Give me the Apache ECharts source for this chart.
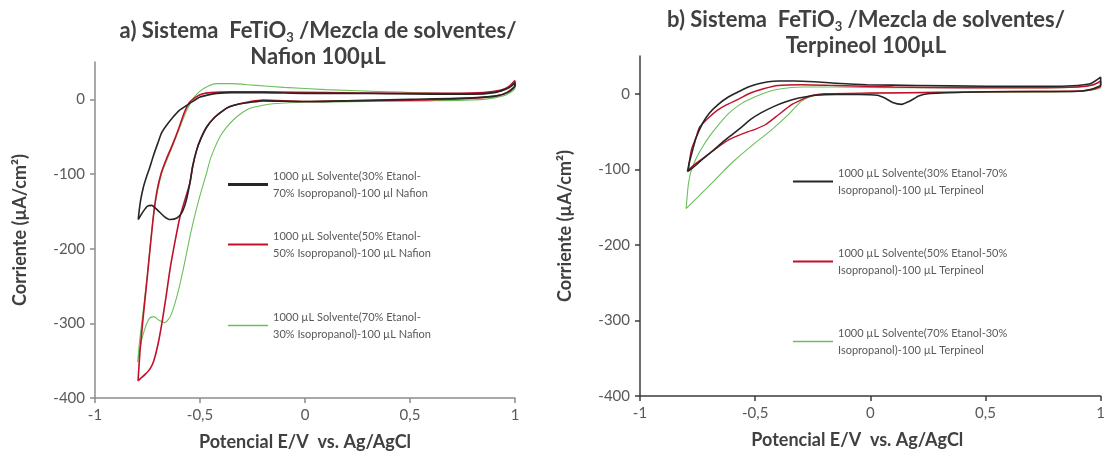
<!DOCTYPE html>
<html>
<head>
<meta charset="utf-8">
<script src="https://cdn.jsdelivr.net/npm/echarts@6/dist/echarts.min.js"></script>
<style>
  html, body { margin: 0; padding: 0; background: #ffffff; }
  #chart { width: 1108px; height: 461px; }
</style>
</head>
<body>
<div id="chart"></div>
<script>
// Cyclic voltammograms: [potential E/V vs Ag/AgCl, current µA/cm²]
// Each loop: forward (anodic) branch followed by the return branch.

// a) FeTiO3 / solvent mixture / Nafion 100 µL
const nafion30 = [
  [-0.794,-161],[-0.79,-150],[-0.782,-134],[-0.77,-118],[-0.755,-104],[-0.74,-92],[-0.72,-74],
  [-0.70,-58],[-0.683,-45],[-0.66,-35],[-0.629,-24],[-0.60,-15],[-0.563,-8],[-0.53,-2],[-0.50,3],
  [-0.46,6],[-0.42,8],[-0.35,9],[-0.2,9],[0,8],[0.3,8],[0.6,7],[0.8,7],[0.9,9],[0.95,13],[0.98,17],[1.0,22],
  [1.0,18],[0.97,10],[0.92,5],[0.8,2],[0.5,0],[0.2,-2],[0,-3],[-0.2,-2],[-0.26,-4],[-0.31,-6],
  [-0.36,-10],[-0.39,-15],[-0.43,-24],[-0.468,-37],[-0.495,-52],[-0.516,-68],[-0.535,-90],[-0.548,-112],
  [-0.565,-135],[-0.585,-151],[-0.61,-159],[-0.643,-161],[-0.67,-157],[-0.70,-149],[-0.73,-142],
  [-0.75,-143],[-0.77,-150],[-0.794,-161]
];
const nafion50 = [
  [-0.795,-377],[-0.79,-355],[-0.785,-335],[-0.77,-290],[-0.75,-235],[-0.735,-192],[-0.72,-152],
  [-0.705,-123],[-0.685,-99],[-0.66,-80],[-0.63,-60],[-0.60,-38],[-0.575,-18],[-0.55,-4],[-0.52,3],
  [-0.49,7],[-0.45,9],[-0.35,10],[-0.2,10],[0.1,9],[0.4,8],[0.7,8],[0.85,9],[0.93,12],[0.97,17],[1.0,25],
  [1.0,19],[0.96,9],[0.9,4],[0.75,1],[0.5,-1],[0.2,-2],[0,-3],[-0.2,-1],[-0.26,-3],[-0.31,-6],
  [-0.36,-10],[-0.39,-15],[-0.43,-24],[-0.468,-37],[-0.495,-52],[-0.516,-68],[-0.535,-90],[-0.548,-112],
  [-0.57,-133],[-0.595,-157],[-0.62,-192],[-0.643,-228],[-0.662,-265],[-0.681,-299],[-0.70,-328],
  [-0.72,-350],[-0.738,-361],[-0.76,-368],[-0.78,-373],[-0.795,-377]
];
const nafion70 = [
  [-0.797,-352],[-0.79,-330],[-0.78,-305],[-0.765,-270],[-0.75,-232],[-0.735,-190],[-0.72,-152],
  [-0.70,-120],[-0.68,-97],[-0.65,-76],[-0.62,-55],[-0.59,-33],[-0.56,-13],[-0.53,2],[-0.50,11],
  [-0.46,18],[-0.42,21],[-0.35,21],[-0.25,19],[-0.1,16],[0.1,13],[0.4,10],[0.7,8],[0.85,8],[0.93,11],
  [0.97,16],[1.0,22],
  [1.0,15],[0.95,5],[0.85,0],[0.6,-2],[0.3,-3],[0,-4],[-0.152,-6],[-0.2,-8],[-0.262,-12],[-0.3,-18],
  [-0.343,-28],[-0.375,-38],[-0.405,-50],[-0.43,-65],[-0.452,-81],[-0.47,-100],[-0.492,-121],
  [-0.52,-150],[-0.548,-184],[-0.58,-228],[-0.61,-264],[-0.64,-290],[-0.667,-299],[-0.695,-296],
  [-0.72,-291],[-0.74,-293],[-0.76,-305],[-0.78,-325],[-0.797,-352]
];

// b) FeTiO3 / solvent mixture / Terpineol 100 µL
const terpineol30 = [
  [-0.794,-103],[-0.785,-90],[-0.772,-75],[-0.756,-58],[-0.73,-40],[-0.70,-26],[-0.66,-14],[-0.615,-4],
  [-0.57,3],[-0.53,9],[-0.49,13],[-0.443,16],[-0.4,17],[-0.33,17],[-0.242,16],[-0.15,14],[-0.015,12],
  [0.2,11],[0.5,10],[0.8,10],[0.9,11],[0.96,14],[1.0,22],
  [1.0,12],[0.96,6],[0.88,3],[0.6,3],[0.4,2],[0.25,0],[0.21,-3],[0.17,-10],[0.135,-14],[0.1,-12],
  [0.065,-6],[0.03,-2],[-0.05,-1],[-0.15,-1],[-0.242,-2],[-0.28,-4],[-0.315,-6],[-0.37,-11],[-0.42,-17],
  [-0.473,-25],[-0.52,-34],[-0.559,-44],[-0.6,-54],[-0.645,-65],[-0.69,-77],[-0.73,-87],[-0.76,-95],
  [-0.794,-103]
];
const terpineol50 = [
  [-0.79,-101],[-0.785,-88],[-0.775,-72],[-0.757,-58],[-0.743,-45],[-0.72,-37],[-0.70,-31],[-0.66,-21],
  [-0.627,-15],[-0.572,-7],[-0.52,1],[-0.46,7],[-0.4,11],[-0.3,12],[-0.15,11],[0.1,9],[0.4,8],[0.7,8],
  [0.9,9],[0.97,12],[1.0,17],
  [1.0,10],[0.93,4],[0.7,3],[0.3,2],[0,1],[-0.2,0],[-0.26,-3],[-0.3,-8],[-0.345,-15],[-0.4,-28],
  [-0.456,-41],[-0.5,-47],[-0.53,-50],[-0.58,-56],[-0.615,-61],[-0.65,-68],[-0.69,-77],[-0.734,-87],
  [-0.765,-94],[-0.79,-101]
];
const terpineol70 = [
  [-0.8,-152],[-0.795,-135],[-0.79,-120],[-0.779,-103],[-0.757,-86],[-0.73,-71],[-0.70,-57],[-0.67,-45],
  [-0.615,-26],[-0.56,-13],[-0.5,-4],[-0.45,2],[-0.4,6],[-0.3,9],[-0.15,9],[0.1,8],[0.5,8],[0.8,8],
  [0.93,10],[1.0,15],
  [1.0,8],[0.9,3],[0.5,2],[0,0],[-0.2,-1],[-0.26,-4],[-0.3,-10],[-0.33,-19],[-0.357,-28],[-0.43,-48],
  [-0.5,-65],[-0.585,-87],[-0.64,-103],[-0.687,-118],[-0.75,-137],[-0.8,-152]
];

// Axis ticks
const potentialTicks = [-1, -0.5, 0, 0.5, 1];
const currentTicks = [-400, -300, -200, -100, 0];

// Legend entries
const nafionNames = [
  '1000 µL Solvente(30% Etanol-\n70% Isopropanol)-100 µl Nafion',
  '1000 µL Solvente(50% Etanol-\n50% Isopropanol)-100 µL Nafion',
  '1000 µL Solvente(70% Etanol-\n30% Isopropanol)-100 µL Nafion'
];
const terpineolNames = [
  '1000 µL Solvente(30% Etanol-70%\nIsopropanol)-100 µL Terpineol',
  '1000 µL Solvente(50% Etanol-50%\nIsopropanol)-100 µL Terpineol',
  '1000 µL Solvente(70% Etanol-30%\nIsopropanol)-100 µL Terpineol'
];

const FONT = 'Lato';
const BLACK = '#262626', RED = '#c0102a', GREEN = '#6cc05a';

function xAxisFor(gridIndex, lineColor, namePad) {
  return {
    type: 'value', gridIndex, min: -1, max: 1, interval: 0.5,
    axisLine: { show: true, onZero: false, lineStyle: { color: lineColor, width: 1.5 } },
    axisTick: { show: true, length: 5, lineStyle: { color: lineColor, width: 1.5 } },
    axisLabel: { color: '#595959', fontFamily: FONT, fontSize: 15, margin: 10,
      customValues: potentialTicks, formatter: v => String(v).replace('.', ',') },
    splitLine: { show: false },
    name: 'Potencial E/V  vs. Ag/AgCl', nameLocation: 'middle', nameGap: 35,
    nameTextStyle: { color: '#404040', fontFamily: FONT, fontWeight: 'bold', fontSize: 18, padding: namePad }
  };
}
function yAxisFor(gridIndex, lineColor) {
  return {
    type: 'value', gridIndex, min: -400, max: 50, interval: 100,
    axisLine: { show: true, onZero: false, lineStyle: { color: lineColor, width: 1.5 } },
    axisTick: { show: true, length: 5, customValues: currentTicks, lineStyle: { color: lineColor, width: 1.5 } },
    axisLabel: { color: '#595959', fontFamily: FONT, fontSize: 15, margin: 10, customValues: currentTicks },
    splitLine: { show: false },
    name: 'Corriente (µA/cm²)', nameLocation: 'middle', nameGap: 66, nameRotate: 90,
    nameTextStyle: { color: '#404040', fontFamily: FONT, fontWeight: 'bold', fontSize: 18 }
  };
}
function curve(name, data, idx, color, width) {
  return {
    name, type: 'line', data, xAxisIndex: idx, yAxisIndex: idx,
    symbol: 'none', showSymbol: false, smooth: 0.2, silent: true,
    lineStyle: { color, width }, itemStyle: { color }
  };
}
function legendFor(name, left, top, color, width) {
  return {
    show: true, data: [name], left, top, padding: 0, itemWidth: 40, itemHeight: width, itemGap: 0,
    selectedMode: false, icon: 'rect',
    itemStyle: { color },
    textStyle: { color: '#595959', fontFamily: FONT, fontSize: 11, lineHeight: 17, padding: [17, 0, 0, 0] }
  };
}

const chart = echarts.init(document.getElementById('chart'), null, { renderer: 'canvas' });

const titleRich = {
  t: { fontFamily: FONT, fontWeight: 'bold', fontSize: 22, fill: '#404040', color: '#404040', lineHeight: 26 },
  s: { fontFamily: FONT, fontWeight: 'bold', fontSize: 13, fill: '#404040', color: '#404040', lineHeight: 13, verticalAlign: 'bottom' }
};

chart.setOption({
  animation: false,
  backgroundColor: '#ffffff',
  grid: [
    { left: 95, top: 62, width: 420, height: 336 },
    { left: 640, top: 56, width: 467, height: 340 }
  ],
  xAxis: [xAxisFor(0, '#8c8c8c', [0, 0, 0, 0]), xAxisFor(1, '#3c3c3c', [0, 26, 0, 0])],
  yAxis: [yAxisFor(0, '#8c8c8c'), yAxisFor(1, '#3c3c3c')],
  legend: [
    legendFor(nafionNames[0], 228, 159, BLACK, 3),
    legendFor(nafionNames[1], 228, 219, RED, 2),
    legendFor(nafionNames[2], 228, 300, GREEN, 1.5),
    legendFor(terpineolNames[0], 793, 156, BLACK, 2),
    legendFor(terpineolNames[1], 793, 236, RED, 2),
    legendFor(terpineolNames[2], 793, 316, GREEN, 1.5)
  ],
  series: [
    curve(nafionNames[2], nafion70, 0, GREEN, 1.1),
    curve(nafionNames[1], nafion50, 0, RED, 1.6),
    curve(nafionNames[0], nafion30, 0, BLACK, 1.6),
    curve(terpineolNames[2], terpineol70, 1, GREEN, 1.1),
    curve(terpineolNames[1], terpineol50, 1, RED, 1.4),
    curve(terpineolNames[0], terpineol30, 1, BLACK, 1.6)
  ],
  graphic: [
    { type: 'text', x: 318, y: 18, silent: true,
      style: { text: '{t|a) Sistema  FeTiO}{s|3}{t| /Mezcla de solventes/}\n{t|Nafion 100µL}',
        rich: titleRich, textAlign: 'center', textVerticalAlign: 'top' } },
    { type: 'text', x: 866, y: 7, silent: true,
      style: { text: '{t|b) Sistema  FeTiO}{s|3}{t| /Mezcla de solventes/}\n{t|Terpineol 100µL}',
        rich: titleRich, textAlign: 'center', textVerticalAlign: 'top' } }
  ]
});
</script>
</body>
</html>
